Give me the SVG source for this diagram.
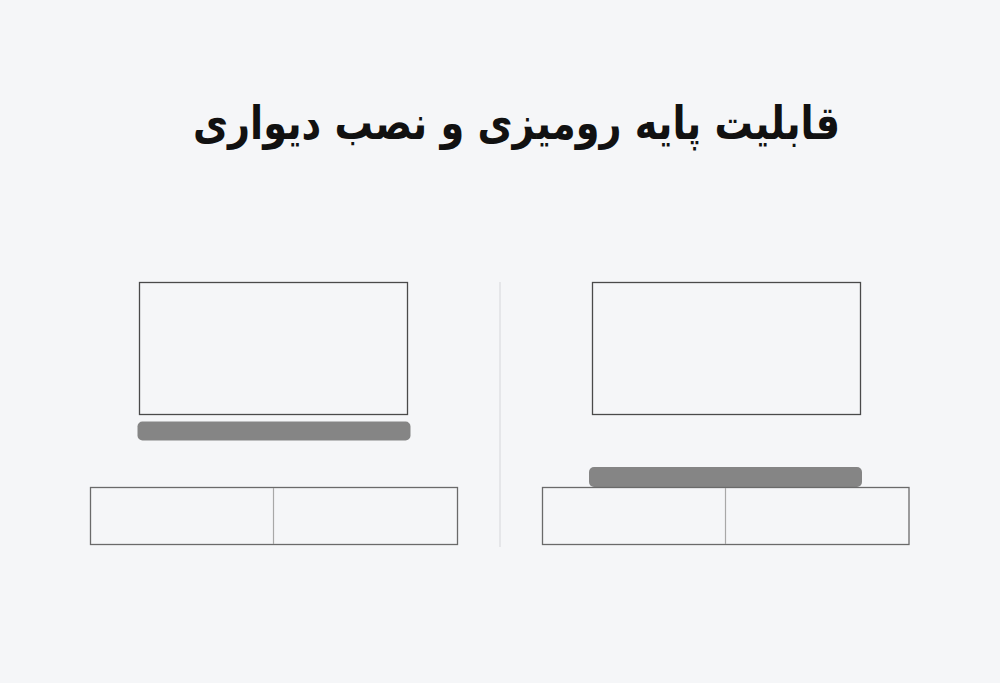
<svg xmlns="http://www.w3.org/2000/svg" width="1000" height="683" viewBox="0 0 1000 683">
<style>
.frame{fill:none;stroke:#4a4a4a;stroke-width:1.3}
.cab{fill:none;stroke:#6a6a6a;stroke-width:1.3}
.div{stroke:#a8a8a8;stroke-width:1.2}
.bar{fill:#858585}
.title{font-family:"DejaVu Sans","Noto Sans",sans-serif;font-weight:bold;font-size:46px;fill:#111}
</style>
<rect width="1000" height="683" fill="#f5f6f8"/>
<text class="title" x="516.5" y="139" text-anchor="middle" direction="rtl" textLength="647" lengthAdjust="spacingAndGlyphs">قابلیت پایه رومیزی و نصب دیواری</text>
<line x1="500" y1="282" x2="500" y2="547" stroke="#dcdde0" stroke-width="1.3"/>
<g id="wall-mount">
<rect class="frame" x="139.5" y="282.5" width="268" height="132"/>
<rect class="bar" x="137.5" y="421.5" width="273" height="19" rx="5"/>
<rect class="cab" x="90.5" y="487.5" width="367" height="57"/>
<line class="div" x1="273.5" y1="488" x2="273.5" y2="544"/>
</g>
<g id="table-stand">
<rect class="frame" x="592.5" y="282.5" width="268" height="132"/>
<rect class="bar" x="589" y="467" width="273" height="20" rx="5"/>
<rect class="cab" x="542.5" y="487.5" width="366.5" height="57"/>
<line class="div" x1="725.5" y1="488" x2="725.5" y2="544" stroke="#888"/>
</g>
</svg>
